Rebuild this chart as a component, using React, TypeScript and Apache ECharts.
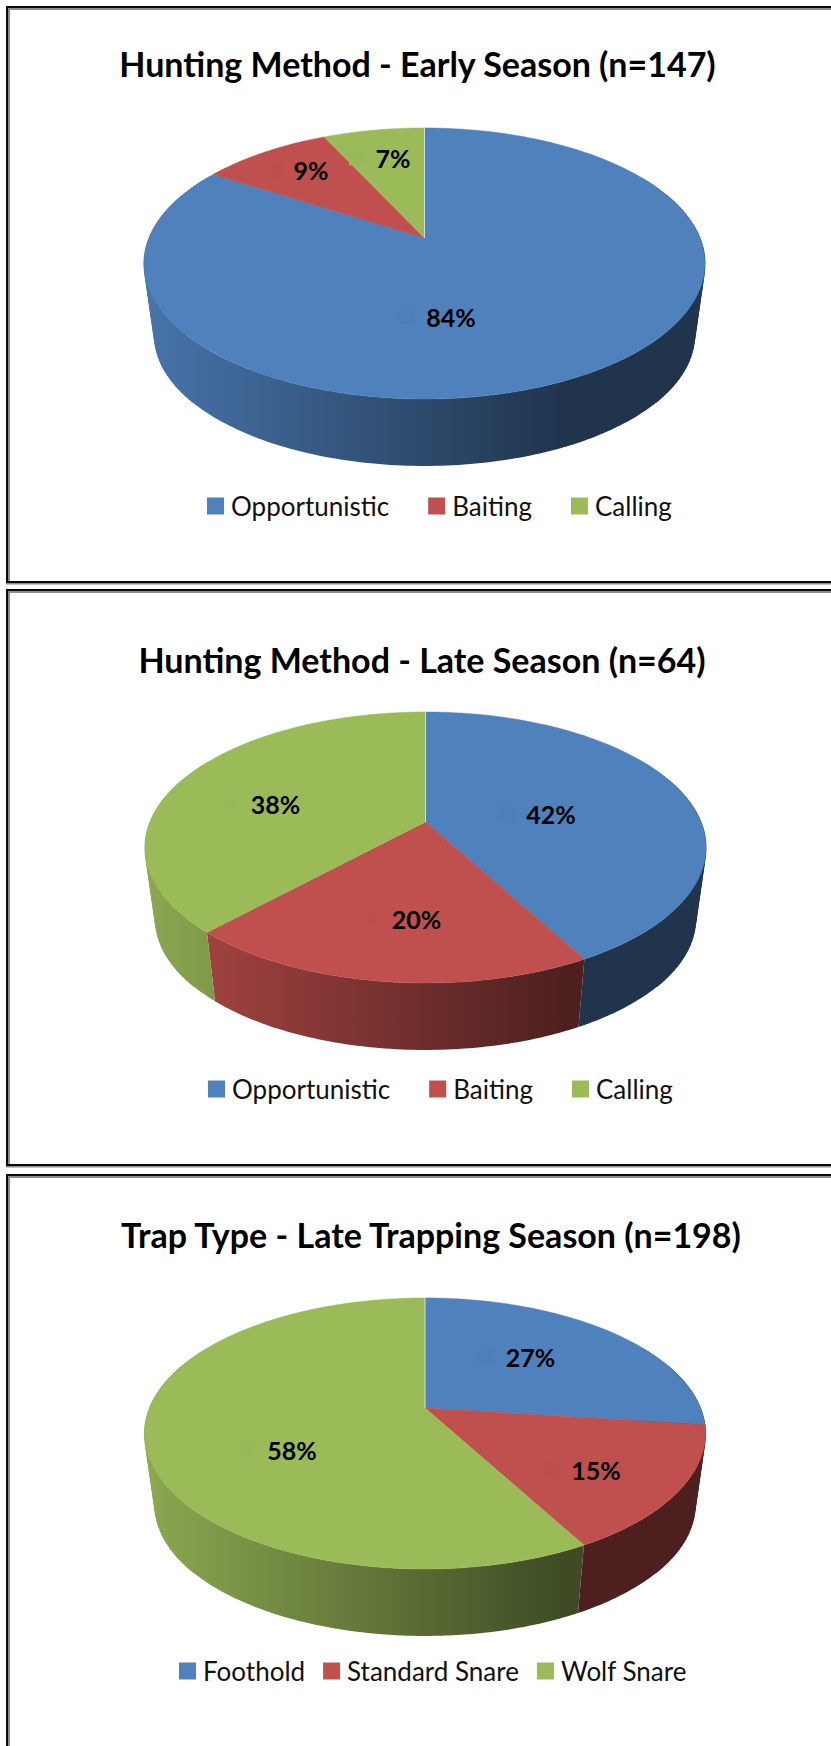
import React, { useEffect, useRef } from "react";
import * as echarts from "echarts";

const huntingCategories = ["Opportunistic", "Baiting", "Calling"];
const trapCategories = ["Foothold", "Standard Snare", "Wolf Snare"];
const earlyValues = [84, 9, 7];
const lateValues = [42, 20, 38];
const trapValues = [27, 15, 58];
const colors = ["#4f81bd", "#c0504d", "#9bbb59"];

const FONT = "Lato";
const PANELS = [
  {
    title: "Hunting Method - Early Season (n=147)", categories: huntingCategories, values: earlyValues,
    top: 0, height: 586, boxTop: 6, boxBottom: 583,
    cx: 424.5, apex: 238, titleX: 417.5, titleY: 63.5,
    labels: [[451, 316.5], [311, 170], [393, 158]],
    legendLeft: 207, legendY: 507, legendGap: 39,
  },
  {
    title: "Hunting Method - Late Season (n=64)", categories: huntingCategories, values: lateValues,
    top: 586, height: 584, boxTop: 589, boxBottom: 1166,
    cx: 425.5, apex: 822, titleX: 422, titleY: 659,
    labels: [[551, 813.5], [416.5, 918.5], [275.5, 804]],
    legendLeft: 208, legendY: 1090, legendGap: 39,
  },
  {
    title: "Trap Type - Late Trapping Season (n=198)", categories: trapCategories, values: trapValues,
    top: 1170, height: 576, boxTop: 1174, boxBottom: 1760,
    cx: 425, apex: 1408, titleX: 431, titleY: 1234,
    labels: [[530.5, 1357], [596, 1470], [292, 1450]],
    legendLeft: 179, legendY: 1672, legendGap: 18,
  },
];

// Perspective of the tilted disc: unit circle -> screen offsets from the apex.
const PERSP = -0.188, SCALE_X = 275.5, SCALE_Y = 130.7;
const TILT_CENTER = 25.5, DEPTH = 72, BOTTOM_SCALE = 0.963;

function project(cx: number, apex: number, deg: number) {
  const t = (deg * Math.PI) / 180;
  const u = Math.sin(t), v = -Math.cos(t);
  const d = 1 + PERSP * v;
  return [cx + (SCALE_X * u) / d, apex + (SCALE_Y * v) / d];
}
function projectBottom(cx: number, apex: number, deg: number) {
  const [x, y] = project(cx, apex, deg);
  const my = apex + TILT_CENTER;
  return [cx + (x - cx) * BOTTOM_SCALE, my + DEPTH + (y - my) * BOTTOM_SCALE];
}
function shade(hex: string, f: number) {
  const n = parseInt(hex.slice(1), 16);
  const c = [(n >> 16) & 255, (n >> 8) & 255, n & 255].map((k) => Math.round(k * f));
  return `rgb(${c[0]},${c[1]},${c[2]})`;
}
function arc(from: number, to: number, fn: (d: number) => number[]) {
  const pts: number[][] = [];
  const steps = Math.max(2, Math.ceil(to - from));
  for (let i = 0; i <= steps; i++) pts.push(fn(from + ((to - from) * i) / steps));
  return pts;
}

function buildOption(p: (typeof PANELS)[number]) {
  const total = p.values.reduce((a, b) => a + b, 0);
  let cum = 0;
  const series = p.categories.map((name, i) => {
    const row = [p.values[i], cum];
    cum += p.values[i];
    const color = colors[i];
    return {
      type: "custom",
      name,
      coordinateSystem: "none",
      silent: true,
      itemStyle: { color },
      data: [row],
      renderItem: (_params: any, api: any) => {
        const value = api.value(0), before = api.value(1);
        const a0 = (before / total) * 360, a1 = ((before + value) / total) * 360;
        const top = p.apex - p.top, cx = p.cx;
        const children: any[] = [];
        const wallFill = new echarts.graphic.LinearGradient(
          cx - 280, 0, cx + 140, 0,
          [{ offset: 0, color: shade(color, 0.9) }, { offset: 1, color: shade(color, 0.4) }],
          true
        );
        const w0 = Math.max(a0, 60), w1 = Math.min(a1, 300);
        if (w1 > w0) {
          const upper = arc(w0, w1, (d) => project(cx, top, d));
          const lower = arc(w0, w1, (d) => projectBottom(cx, top, d)).reverse();
          children.push({
            type: "polygon",
            z2: 1,
            shape: { points: upper.concat(lower) },
            style: { fill: wallFill },
          });
          // swept strips near the two sides, so the silhouette runs straight
          // from the rim of the top face to the rim of the base
          [[70, 130], [230, 290]].forEach(([s0, s1]) => {
            const b0 = Math.max(w0, s0), b1 = Math.min(w1, s1);
            for (let d = b0; d < b1; d += 1.5) {
              const e = Math.min(d + 1.5, b1);
              children.push({
                type: "polygon",
                z2: 2,
                shape: {
                  points: [
                    project(cx, top, d), project(cx, top, e),
                    projectBottom(cx, top, e), projectBottom(cx, top, d),
                  ],
                },
                style: { fill: wallFill, stroke: wallFill, lineWidth: 0.4 },
              });
            }
          });
        }
        children.push({
          type: "polygon",
          z2: 5,
          shape: { points: [[cx, top] as number[]].concat(arc(a0, a1, (d) => project(cx, top, d))) },
          style: { fill: color, stroke: color, lineWidth: 0.5 },
        });
        if (before === 0) {
          const tip = project(cx, top, 0);
          children.push({
            type: "line",
            z2: 6,
            shape: { x1: cx, y1: top, x2: tip[0], y2: tip[1] },
            style: { stroke: "#cfd9e8", lineWidth: 1 },
          });
        }
        const lx = p.labels[i][0], ly = p.labels[i][1] - p.top;
        const halfWidth = value >= 10 ? 25 : 17;
        children.push({
          type: "rect",
          z2: 7,
          shape: { x: lx - halfWidth - 27, y: ly - 7.5, width: 15, height: 15 },
          style: { fill: shade(color, 0.985) },
        });
        children.push({
          type: "text",
          z2: 8,
          x: lx,
          y: ly,
          style: {
            text: `${value}%`,
            fill: "#000",
            font: `bold 25px ${FONT}`,
            align: "center",
            verticalAlign: "middle",
          },
        });
        return { type: "group", children };
      },
    };
  });
  return {
    animation: false,
    backgroundColor: "transparent",
    title: {
      text: p.title,
      left: p.titleX,
      top: p.titleY - p.top,
      padding: 0,
      textAlign: "center",
      textVerticalAlign: "middle",
      textStyle: { fontFamily: FONT, fontWeight: "bold", fontSize: 34, color: "#000" },
    },
    legend: {
      data: p.categories,
      left: p.legendLeft,
      top: p.legendY - p.top - 14,
      orient: "horizontal",
      padding: 0,
      icon: "rect",
      itemWidth: 17,
      itemHeight: 17,
      itemGap: p.legendGap,
      textStyle: { fontFamily: FONT, fontSize: 26, color: "#111", padding: [0, 0, 0, 2] },
    },
    series,
  };
}

function Panel({ p }: { p: (typeof PANELS)[number] }) {
  const ref = useRef<HTMLDivElement>(null);
  useEffect(() => {
    const chart = echarts.init(ref.current!, undefined, { renderer: "svg" });
    chart.setOption(buildOption(p) as any);
    return () => chart.dispose();
  }, [p]);
  return (
    <>
      <div style={{ position: "absolute", left: 6, top: p.boxTop, width: 900, height: p.boxBottom - p.boxTop, boxSizing: "border-box", border: "2px solid #0a0a0a", boxShadow: "0 1.5px 0 #8c8c8c" }}>
        <div style={{ position: "absolute", left: 0, top: 0, right: 0, bottom: 0, borderLeft: "2px solid #8c8c8c", borderTop: "2px solid #8c8c8c" }} />
      </div>
      <div ref={ref} style={{ position: "absolute", left: 0, top: p.top, width: 831, height: p.height }} />
    </>
  );
}

export default function App() {
  return (
    <div style={{ position: "absolute", left: 0, top: 0, width: 831, height: 1746, overflow: "hidden", background: "#fff" }}>
      {PANELS.map((p) => <Panel key={p.title} p={p} />)}
    </div>
  );
}
